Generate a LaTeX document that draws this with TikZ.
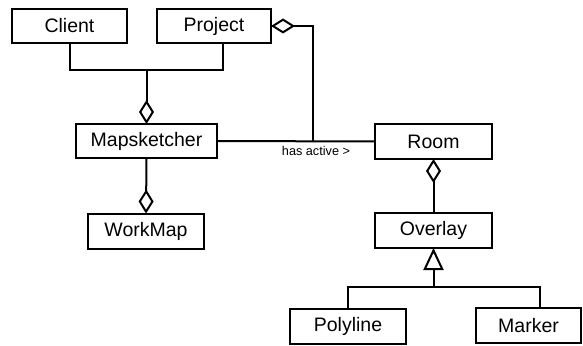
\documentclass[tikz,border=0pt]{standalone}
\usepackage{fontspec}
\setmainfont{Liberation Sans}
\usetikzlibrary{arrows.meta}
\begin{document}
\begin{tikzpicture}[x=1pt,y=-1pt,
  cls/.style={draw,line width=2pt,inner sep=0pt,outer sep=0pt,minimum height=34pt,
    font=\fontsize{19.5}{22}\selectfont},
  conn/.style={line width=2pt},
  agg/.style={conn,-{Diamond[open,length=24pt,width=15pt,line width=2pt]}},
  gen/.style={conn,-{Triangle[open,length=22pt,width=20pt,line width=2pt]}},
  lbl/.style={font=\fontsize{12.7}{14}\selectfont,inner sep=0pt}]
\useasboundingbox (0,0) rectangle (583,345);
\node[cls,minimum width=115pt] (client) at (69.5,26) {Client};
\node[cls,minimum width=114pt] (project) at (214,26) {Project};
\node[cls,minimum width=141pt] (maps) at (146.5,141) {Mapsketcher};
\node[cls,minimum width=116pt,minimum height=35pt] (workmap) at (146,231) {WorkMap};
\node[cls,minimum width=117pt,minimum height=35pt] (room) at (433.5,141.5) {Room};
\node[cls,minimum width=117pt,minimum height=35pt] (overlay) at (433.5,230.5) {Overlay};
\node[cls,minimum width=116pt,minimum height=35pt] (polyline) at (348,326.5) {Polyline};
\node[cls,minimum width=105pt,minimum height=35pt] (marker) at (528.5,325.5) {Marker};
\coordinate (cj) at (146.5,70);
\coordinate (pjx) at (223,70);
\coordinate (pr) at (313,141.5);
\coordinate (tj) at (433.5,287);
\coordinate (tr) at (540,287);
% Client / Project to Mapsketcher
\draw[conn] (client.south) |- (pjx) -- (project.south -| pjx);
\draw[agg] (cj) -- (maps.north);
% Mapsketcher to WorkMap
\draw[agg] (maps.south) -- (workmap.north);
% Mapsketcher to Room
\draw[conn] (maps.east) -- node[lbl,below=4pt,xshift=20pt] (has) {has active >} (room.west);
% Project aggregation
\draw[agg] (pr) |- (project.east);
% Room to Overlay
\draw[agg] (overlay.north) -- (room.south);
% Generalisation
\draw[conn] (polyline.north) |- (tr) -- (marker.north -| tr);
\draw[gen] (tj) -- (overlay.south);
\end{tikzpicture}
\end{document}
